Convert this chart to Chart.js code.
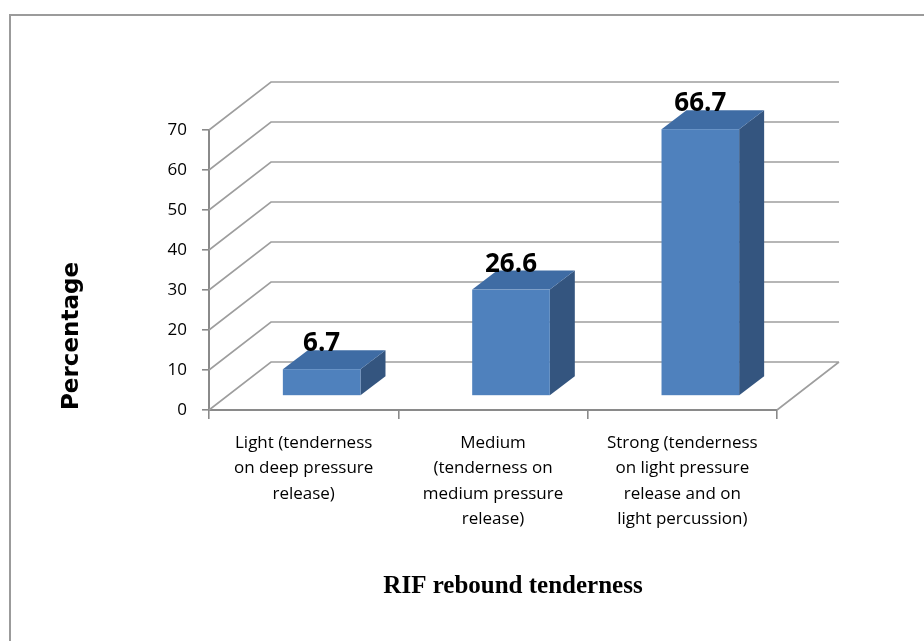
<!DOCTYPE html>
<html>
<head>
<meta charset="utf-8">
<script src="https://cdn.jsdelivr.net/npm/chart.js@4.4.0/dist/chart.umd.min.js"></script>
<style>
  html, body { margin: 0; padding: 0; background: #fff; overflow: hidden; }
  #wrap { position: relative; width: 924px; height: 641px; }
  #frame { position: absolute; left: 9px; top: 14px; width: 940px; height: 660px; border: 2px solid #9b9b9b; box-sizing: border-box; }
  canvas { position: absolute; left: 0; top: 0; }
</style>
</head>
<body>
<div id="wrap">
  <div id="frame"></div>
  <canvas id="chart" width="924" height="641"></canvas>
</div>
<script>
const categories = [
    ['Light (tenderness', 'on deep pressure', 'release)'],
    ['Medium', '(tenderness on', 'medium pressure', 'release)'],
    ['Strong (tenderness', 'on light pressure', 'release and on', 'light percussion)'],
];
const percentages = [6.7, 26.6, 66.7];
const yMin = 0;
const yMax = 70;
const yStep = 10;
const yAxisTitle = 'Percentage';
const xAxisTitle = 'RIF rebound tenderness';

// 3D look (Excel style clustered column)
const wall = { dx: 62, dy: -48 };       // back wall offset from front plane
const barFront = { dx: 18, dy: -14 };   // where the bar front face sits in depth
const barDepth = { dx: 25, dy: -19 };   // bar thickness
const colors = {
    front: '#4f81bd',
    top: '#3f6ca4',
    side: '#34557f',
    grid: '#9e9e9e',
    axis: '#8a8a8a',
};

const box3d = {
    id: 'box3d',
    beforeDatasetsDraw(chart) {
        const { ctx, chartArea: a, scales: { y } } = chart;
        ctx.save();
        ctx.strokeStyle = colors.grid;
        ctx.lineWidth = 1.6;
        ctx.beginPath();
        y.ticks.forEach(t => {
            const py = y.getPixelForValue(t.value);
            ctx.moveTo(a.left, py);
            ctx.lineTo(a.left + wall.dx, py + wall.dy);
            ctx.lineTo(a.right + wall.dx, py + wall.dy);
        });
        const py0 = y.getPixelForValue(yMin);
        ctx.moveTo(a.right, py0);
        ctx.lineTo(a.right + wall.dx, py0 + wall.dy);
        ctx.stroke();

        chart.getDatasetMeta(0).data.forEach(bar => {
            const { x, y: top, base, width } = bar.getProps(['x', 'y', 'base', 'width'], true);
            const l = x - width / 2 + barFront.dx;
            const r = x + width / 2 + barFront.dx;
            const t = top + barFront.dy;
            const b = base + barFront.dy;

            ctx.fillStyle = colors.side;
            ctx.beginPath();
            ctx.moveTo(r, t);
            ctx.lineTo(r + barDepth.dx, t + barDepth.dy);
            ctx.lineTo(r + barDepth.dx, b + barDepth.dy);
            ctx.lineTo(r, b);
            ctx.closePath();
            ctx.fill();

            ctx.fillStyle = colors.top;
            ctx.beginPath();
            ctx.moveTo(l, t);
            ctx.lineTo(r, t);
            ctx.lineTo(r + barDepth.dx, t + barDepth.dy);
            ctx.lineTo(l + barDepth.dx, t + barDepth.dy);
            ctx.closePath();
            ctx.fill();

            ctx.fillStyle = colors.front;
            ctx.fillRect(l, t, r - l, b - t);
        });
        ctx.restore();
        return false;
    },
    afterDraw(chart) {
        const { ctx, chartArea: a } = chart;
        ctx.save();
        ctx.fillStyle = '#000';
        ctx.textAlign = 'center';
        ctx.textBaseline = 'alphabetic';
        ctx.font = 'bold 26px "Open Sans"';
        chart.getDatasetMeta(0).data.forEach((bar, i) => {
            const { x, y: top } = bar.getProps(['x', 'y'], true);
            ctx.fillText(String(percentages[i]), x + barFront.dx, top + barFront.dy + barDepth.dy + 1);
        });
        ctx.font = 'bold 25px "Liberation Serif"';
        ctx.textBaseline = 'middle';
        ctx.fillText(xAxisTitle, (a.left + a.right) / 2 + 20, 587);
        ctx.restore();
    },
};

new Chart(document.getElementById('chart'), {
    type: 'bar',
    data: {
        labels: categories,
        datasets: [{
            data: percentages,
            backgroundColor: colors.front,
            barPercentage: 0.41,
            categoryPercentage: 1,
        }],
    },
    options: {
        responsive: false,
        animation: false,
        layout: { padding: { left: 40, top: 130, right: 147, bottom: 0 } },
        plugins: {
            legend: { display: false },
            tooltip: { enabled: false },
        },
        scales: {
            x: {
                grid: { drawOnChartArea: false, tickLength: 9, color: colors.axis, lineWidth: 1.6 },
                border: { color: colors.axis, width: 2 },
                ticks: {
                    color: '#000',
                    padding: 11,
                    maxRotation: 0,
                    autoSkip: false,
                    font: { family: '"Open Sans"', size: 17, lineHeight: 1.5 },
                },
                afterFit(scale) { scale.height = 231; },
            },
            y: {
                min: yMin,
                max: yMax,
                grid: { drawOnChartArea: false, tickLength: 7, color: colors.axis, lineWidth: 1.6 },
                border: { color: colors.axis, width: 2 },
                ticks: {
                    stepSize: yStep,
                    color: '#000',
                    padding: 15,
                    font: { family: '"Open Sans"', size: 17 },
                },
                title: {
                    display: true,
                    text: yAxisTitle,
                    align: 'start',
                    color: '#000',
                    padding: { top: 18, bottom: 0 },
                    font: { family: '"DejaVu Sans"', size: 23, weight: 'bold', lineHeight: 1.2 },
                },
                afterFit(scale) { scale.width = 169; },
            },
        },
    },
    plugins: [box3d],
});
</script>
</body>
</html>
